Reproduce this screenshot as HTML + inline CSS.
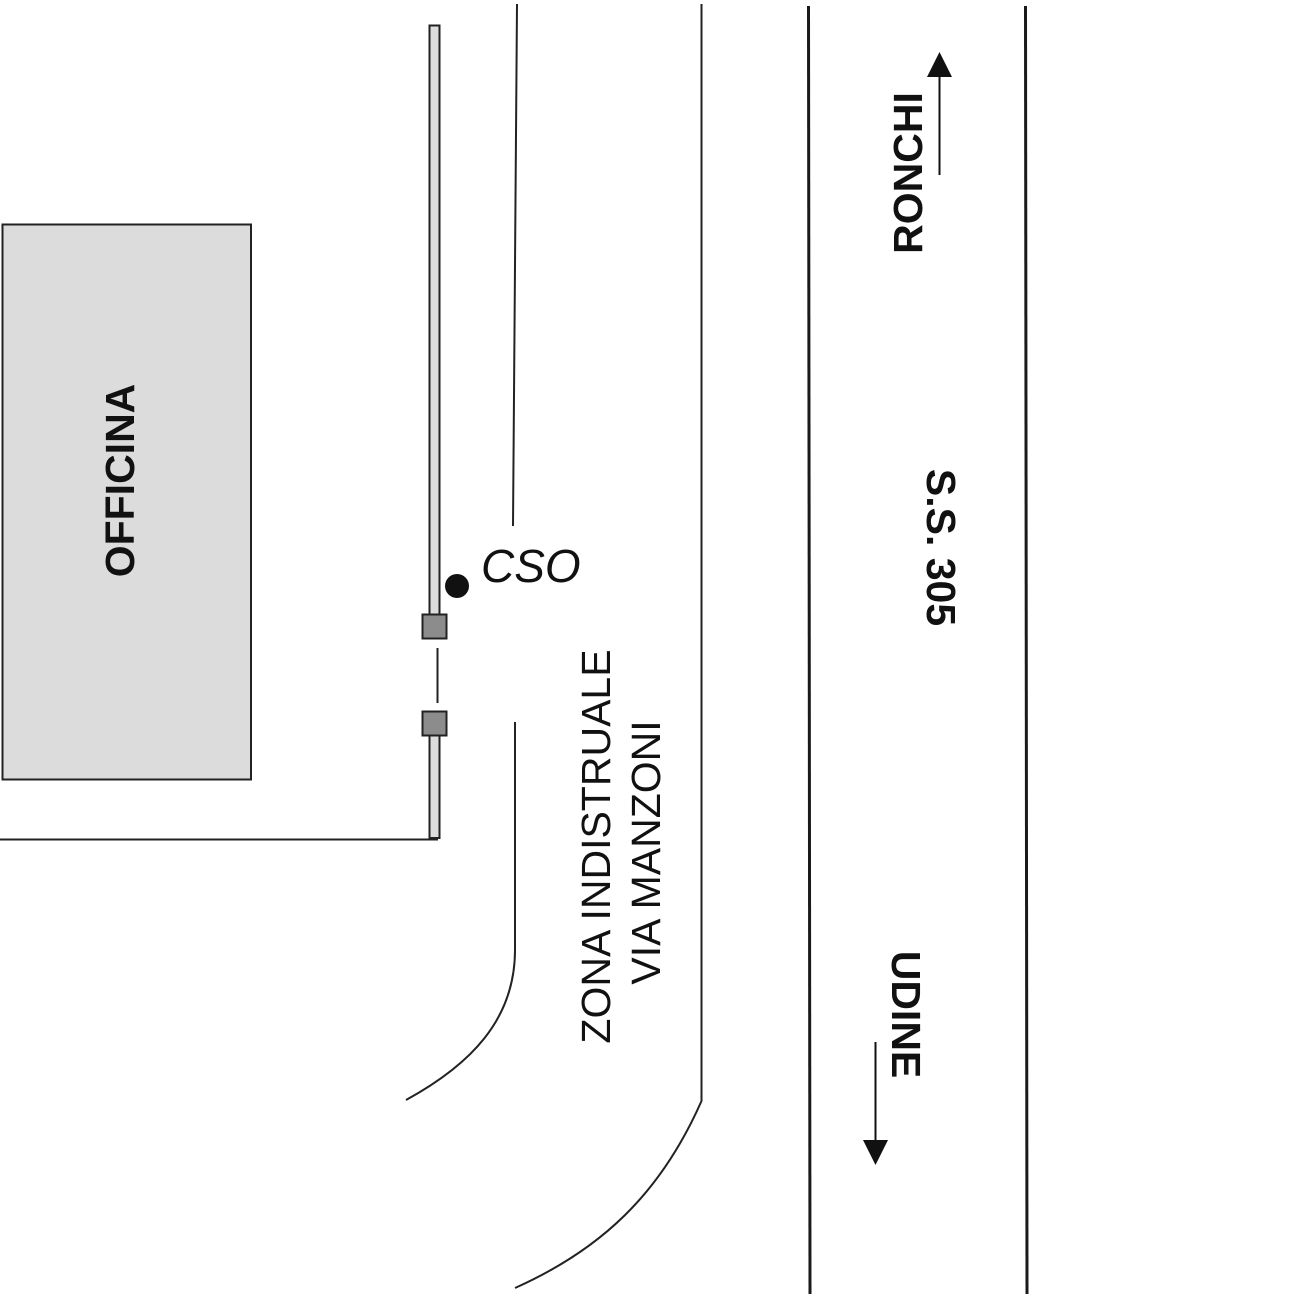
<!DOCTYPE html>
<html><head><meta charset="utf-8"><style>
html,body{margin:0;padding:0;background:#fff;}
svg{display:block;}
</style></head><body>
<svg width="1301" height="1299" viewBox="0 0 1301 1299" xmlns="http://www.w3.org/2000/svg">
<rect x="0" y="0" width="1301" height="1299" fill="#fff"/>
<!-- Officina -->
<rect x="2.5" y="224.5" width="248.5" height="555" fill="#dcdcdc" stroke="#222" stroke-width="2"/>
<text transform="translate(134,480.5) rotate(-90)" text-anchor="middle" font-family="Liberation Sans, Arial, sans-serif" font-weight="bold" font-size="41" fill="#111">OFFICINA</text>
<!-- pipe -->
<rect x="429.5" y="25.5" width="10" height="589" fill="#dcdcdc" stroke="#222" stroke-width="2"/>
<rect x="429.5" y="735" width="10" height="103" fill="#dcdcdc" stroke="#222" stroke-width="2"/>
<rect x="422.5" y="614.5" width="24" height="24" fill="#8c8c8c" stroke="#222" stroke-width="2"/>
<rect x="422.5" y="711.5" width="24" height="24" fill="#8c8c8c" stroke="#222" stroke-width="2"/>
<line x1="437.5" y1="648" x2="437.5" y2="703" stroke="#222" stroke-width="2"/>
<line x1="0" y1="839.5" x2="438" y2="839.5" stroke="#222" stroke-width="2"/>
<!-- CSO -->
<circle cx="457" cy="586" r="12" fill="#111"/>
<text x="481" y="582" font-family="Liberation Sans, Arial, sans-serif" font-style="italic" font-size="46" fill="#111">CSO</text>
<!-- road lines -->
<line x1="517" y1="4" x2="513" y2="526" stroke="#222" stroke-width="2"/>
<path d="M515,722 L515,950 C515,1020 470,1065 406,1100" fill="none" stroke="#222" stroke-width="2"/>
<path d="M701.5,4 L701.5,1101 C660,1195 600,1250 515,1288" fill="none" stroke="#222" stroke-width="2"/>
<line x1="808.5" y1="6" x2="810" y2="1294" stroke="#1a1a1a" stroke-width="3"/>
<line x1="1025.5" y1="6" x2="1027" y2="1294" stroke="#1a1a1a" stroke-width="3"/>
<!-- Zona text -->
<text transform="translate(610,846.5) rotate(-90)" text-anchor="middle" font-family="Liberation Sans, Arial, sans-serif" font-size="41" fill="#111">ZONA INDISTRUALE</text>
<text transform="translate(660,852.5) rotate(-90)" text-anchor="middle" font-family="Liberation Sans, Arial, sans-serif" font-size="41" fill="#111">VIA MANZONI</text>
<!-- RONCHI -->
<text transform="translate(922,173) rotate(-90)" text-anchor="middle" font-family="Liberation Sans, Arial, sans-serif" font-weight="bold" font-size="41" fill="#111">RONCHI</text>
<line x1="939.5" y1="175" x2="939.5" y2="74" stroke="#111" stroke-width="2"/>
<polygon points="939.5,52 927,77 952,77" fill="#111"/>
<!-- S.S. 305 -->
<text transform="translate(927,547.5) rotate(90)" text-anchor="middle" font-family="Liberation Sans, Arial, sans-serif" font-weight="bold" font-size="41" fill="#111">S.S. 305</text>
<!-- UDINE -->
<text transform="translate(892,1014.5) rotate(90)" text-anchor="middle" font-family="Liberation Sans, Arial, sans-serif" font-weight="bold" font-size="41" fill="#111">UDINE</text>
<line x1="875.5" y1="1042" x2="875.5" y2="1142" stroke="#111" stroke-width="2"/>
<polygon points="875.5,1165 863,1140 888,1140" fill="#111"/>
</svg>
</body></html>
